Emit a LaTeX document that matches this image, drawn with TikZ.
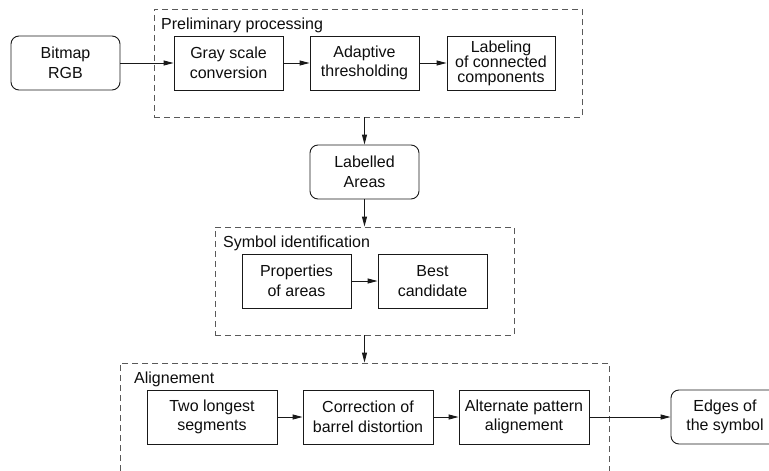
\documentclass[tikz,border=0pt]{standalone}
\usepackage{fontspec}
\setmainfont{Liberation Sans}
\usetikzlibrary{arrows.meta}
\begin{document}
\begin{tikzpicture}[x=1pt,y=-1pt,
  every node/.style={font=\fontsize{16}{19.5}\selectfont, text=black!95},
  proc/.style={draw=black!90, line width=0.9pt, minimum height=54pt, inner sep=0pt, align=center},
  term/.style={proc, rounded corners=8pt},
  group/.style={draw=black!65, line width=0.9pt, dash pattern=on 6pt off 4pt, inner sep=0pt},
  grouplabel/.style={anchor=base west, inner sep=0pt},
  flow/.style={draw=black!90, line width=0.9pt, -{Triangle[length=10pt,width=5pt]}}
]
\clip (0,0) rectangle (769,471);
\useasboundingbox (0,0) rectangle (769,471);

% Preliminary processing
\node[group, minimum width=428pt, minimum height=108pt] (prelim) at (368,63) {};
\node[grouplabel] (prelimlbl) at (161,30) {Preliminary processing};
\node[term, minimum width=109pt] (bitmap) at (65.5,63) {Bitmap\\RGB};
\node[proc, minimum width=109pt] (gray) at (228.5,63) {Gray scale\\conversion};
\node[proc, minimum width=109pt] (adapt) at (364.5,63) {Adaptive\\thresholding};
\node[proc, minimum width=108pt, font=\fontsize{16}{15}\selectfont] (labeling) at (501,63) {Labeling\\of connected\\components};

% Labelled areas
\node[term, minimum width=109pt] (labelled) at (364.5,172) {Labelled\\Areas};

% Symbol identification
\node[group, minimum width=299pt, minimum height=108pt] (sym) at (364.5,281) {};
\node[grouplabel] (symlbl) at (223,247) {Symbol identification};
\node[proc, minimum width=109pt] (props) at (296.5,281) {Properties\\of areas};
\node[proc, minimum width=109pt] (best) at (432.5,281) {Best\\candidate};

% Alignement
\node[group, minimum width=489pt, minimum height=140pt] (align) at (364.5,433) {};
\node[grouplabel] (alignlbl) at (134,383) {Alignement};
\node[proc, minimum width=130pt] (two) at (212,417) {Two longest\\segments};
\node[proc, minimum width=130pt] (corr) at (368,417) {Correction of\\barrel distortion};
\node[proc, minimum width=130pt] (alt) at (524,417) {Alternate pattern\\alignement};
\node[term, minimum width=108pt] (edges) at (725,417) {Edges of\\the symbol};

% connectors
\draw[flow] (bitmap) -- (gray);
\draw[flow] (gray) -- (adapt);
\draw[flow] (adapt) -- (labeling);
\draw[flow] (labelled |- prelim.south) -- (labelled.north);
\draw[flow] (labelled.south) -- (labelled |- sym.north);
\draw[flow] (props) -- (best);
\draw[flow] (sym.south) -- (sym.south |- align.north);
\draw[flow] (two) -- (corr);
\draw[flow] (corr) -- (alt);
\draw[flow] (alt) -- (edges);
\end{tikzpicture}
\end{document}
